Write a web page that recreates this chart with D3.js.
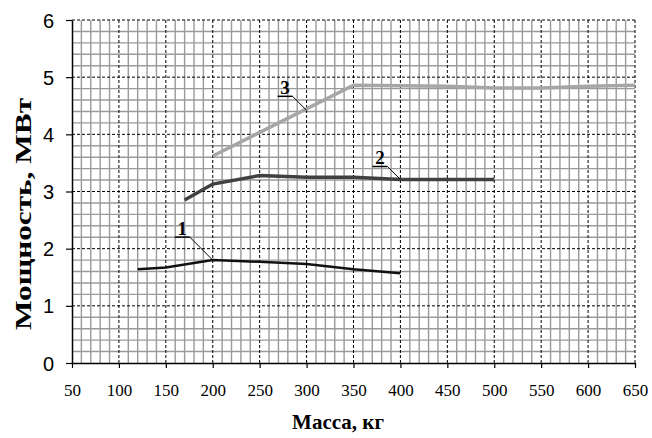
<!DOCTYPE html>
<html><head><meta charset="utf-8">
<script src="https://cdn.jsdelivr.net/npm/d3@7/dist/d3.min.js"></script>
<style>body{margin:0;background:#fff}</style>
</head><body>
<svg id="c" width="652" height="438"></svg>
<script>
const xTicks = [50,100,150,200,250,300,350,400,450,500,550,600,650];
const yTicks = [0,1,2,3,4,5,6];
const series1 = [[120,1.64],[150,1.67],[200,1.80],[250,1.77],[300,1.73],[350,1.64],[400,1.57]];
const series2 = [[170,2.85],[200,3.13],[250,3.28],[300,3.25],[350,3.25],[400,3.21],[500,3.21]];
const series3 = [[200,3.62],[350,4.86],[400,4.85],[450,4.84],[500,4.81],[550,4.81],[600,4.84],[650,4.86]];
const labels = [{t:"1",x:200,y:1.80,ax:-23,ay:-23},{t:"2",x:400,y:3.21,ax:-13,ay:-13},{t:"3",x:300,y:4.42,ax:-14,ay:-14}];

const svg = d3.select("#c");
const L=72,R=635,T=20,B=363;
const x = d3.scaleLinear().domain([50,650]).range([L,R]);
const y = d3.scaleLinear().domain([0,6]).range([B,T]);

// minor grid
const g = svg.append("g");
d3.range(50,651,10).forEach(v=>{ if(v%50) g.append("line").attr("x1",x(v)).attr("x2",x(v)).attr("y1",T).attr("y2",B).attr("stroke","#9a9a9a").attr("stroke-width",1.4);});
d3.range(0,6.001,0.2).forEach(v=>{ const r=Math.round(v*10)/10; if(Math.abs(r-Math.round(r))>0.01) g.append("line").attr("x1",L).attr("x2",R).attr("y1",y(r)).attr("y2",y(r)).attr("stroke","#9a9a9a").attr("stroke-width",1.4);});
// major dashed grid
xTicks.slice(1).forEach(v=>g.append("line").attr("x1",x(v)).attr("x2",x(v)).attr("y1",T).attr("y2",B).attr("stroke","#000").attr("stroke-width",1).attr("stroke-dasharray","3,2"));
yTicks.slice(1).forEach(v=>g.append("line").attr("x1",L).attr("x2",R).attr("y1",y(v)).attr("y2",y(v)).attr("stroke","#000").attr("stroke-width",1).attr("stroke-dasharray","3,2"));

// axes
const xa = svg.append("g").attr("transform",`translate(0,${B})`).call(d3.axisBottom(x).tickValues(xTicks).tickSize(5).tickPadding(16).tickSizeOuter(0));
xa.select(".domain").attr("stroke-width",1.5);
xa.selectAll("line").attr("stroke-width",1.2);
xa.selectAll("text").attr("font-family","'Liberation Serif', serif").attr("font-size",17).attr("fill","#000");
const ya = svg.append("g").attr("transform",`translate(${L},0)`).call(d3.axisLeft(y).tickValues(yTicks).tickFormat(d3.format("d")).tickSize(6).tickPadding(12).tickSizeOuter(0));
ya.select(".domain").attr("stroke-width",1.5);
ya.selectAll("line").attr("stroke-width",1.2);
ya.selectAll("text").attr("font-family","'Liberation Sans', Arial, sans-serif").attr("font-size",20).attr("fill","#000").attr("dy","0.35em");

// lines
const line = d3.line().x(d=>x(d[0])).y(d=>y(d[1]));
svg.append("path").datum(series3).attr("d",line).attr("fill","none").attr("stroke","#a6a6a6").attr("stroke-width",3.5);
svg.append("path").datum(series2).attr("d",line).attr("fill","none").attr("stroke","#404040").attr("stroke-width",3.5);
svg.append("path").datum(series1).attr("d",line).attr("fill","none").attr("stroke","#111").attr("stroke-width",2.5);

// labels
labels.forEach(l=>{
  const px=x(l.x), py=y(l.y);
  const ex=px+l.ax, ey=py+l.ay;
  svg.append("line").attr("x1",px).attr("y1",py).attr("x2",ex).attr("y2",ey).attr("stroke","#000").attr("stroke-width",1);
  svg.append("line").attr("x1",ex).attr("y1",ey).attr("x2",ex-15).attr("y2",ey).attr("stroke","#000").attr("stroke-width",1.5);
  svg.append("text").attr("x",ex-7.5).attr("y",ey-2).attr("text-anchor","middle").attr("font-family","'Liberation Serif', serif").attr("font-weight","bold").attr("font-size",19).text(l.t);
});

// titles
svg.append("text").attr("x",338).attr("y",429).attr("text-anchor","middle").attr("font-family","'Liberation Serif', serif").attr("font-weight","bold").attr("font-size",21).text("Масса, кг");
svg.append("text").attr("transform","translate(31,214) rotate(-90)").attr("text-anchor","middle").attr("font-family","'Liberation Serif', serif").attr("font-weight","bold").attr("font-size",24).attr("textLength",232).attr("lengthAdjust","spacingAndGlyphs").text("Мощность, МВт");
</script>
</body></html>
